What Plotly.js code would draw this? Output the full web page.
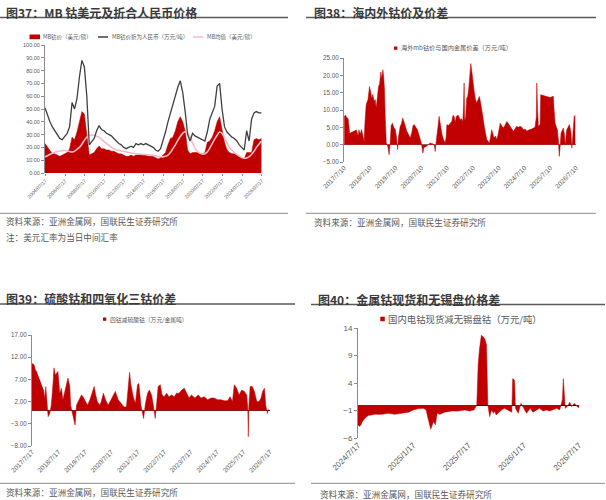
<!DOCTYPE html>
<html><head><meta charset="utf-8">
<script src="https://cdn.plot.ly/plotly-3.0.1.min.js"></script>
<style>html,body{margin:0;padding:0;background:#fff}#c{width:606px;height:500px}</style>
</head><body><div id="c"></div>
<script>
// ---------- Figure 37: quarterly from 2004 Q3 ----------
const p1Start = 2004.5, p1Step = 0.25;
const mbUsd = [23,20,17,15,15,14,13,14,15,16,19,28,26,32,40,48,46,30,14,15,16,19,21,19,19,18,18,17,17,16,15,15,14,13,13,14,13,14,14,14,14,14,13,13,13,12,11,12,14,16,22,27,28,33,40,44,40,33,18,15,16,16,16,15,15,16,24,25,28,33,40,44,33,24,18,16,15,15,14,13,12,11,16,16,16,26,27,26,27];
const mbRmb = [51,45,40,36,33,30,27,26,29,31,36,55,50,58,75,88,83,60,22,25,27,33,37,34,33,31,30,29,27,25,23,22,20,19,20,21,20,23,22,23,22,23,22,21,20,18,17,19,25,32,40,47,55,60,67,72,63,48,30,25,31,29,28,27,26,25,32,42,47,52,68,70,50,36,32,30,28,27,25,22,20,18,33,25,42,47,48,47,47];
const mbAvg = [12.5,13.5,14.5,15.5,16.3,16.8,17.2,17.5,17.6,17.3,16.8,16.5,17,18.5,20,22.5,25.5,28,29.3,29.7,29.5,28.8,28,26.5,24.5,23,21.5,20,19,18.3,17.7,17.2,16.8,16.5,16,15.6,15.3,15,14.8,14.6,14.5,14.3,14.2,14,13.8,13.4,13,12.7,12.6,13,14,16,19,22,25.5,28.5,31,32.3,31.5,28,23.5,19.5,16.8,15.5,14.8,15,16.5,19.5,23,26.5,29.5,32,31,27.5,23.5,20,18,16,14.5,13.3,12.2,11.5,11.8,12.8,14.5,17,20,22.5,25];
const p1Ticks = [2004,2006,2008,2010,2012,2014,2016,2018,2020,2022,2024,2026];
const p1Labels = p1Ticks.map(y => y + '/07/17');

// ---------- Figure 38 ----------
const t2 = [2017.53,2017.58,2017.63,2017.68,2017.74,2017.75,2018.0,2018.07,2018.1,2018.15,2018.2,2018.25,2018.3,2018.33,2018.38,2018.45,2018.51,2018.56,2018.6,2018.64,2018.69,2018.73,2018.77,2018.82,2018.86,2018.9,2018.95,2018.98,2019.03,2019.06,2019.09,2019.12,2019.16,2019.22,2019.27,2019.31,2019.35,2019.4,2019.45,2019.51,2019.55,2019.6,2019.63,2019.7,2019.75,2019.8,2019.85,2019.9,2019.95,2020.02,2020.09,2020.15,2020.2,2020.24,2020.3,2020.37,2020.42,2020.47,2020.52,2020.58,2020.62,2020.71,2020.8,2020.86,2020.93,2020.99,2021.03,2021.06,2021.09,2021.12,2021.17,2021.21,2021.26,2021.32,2021.38,2021.44,2021.48,2021.51,2021.57,2021.63,2021.7,2021.75,2021.8,2021.83,2021.88,2021.95,2022.03,2022.08,2022.13,2022.16,2022.18,2022.2,2022.24,2022.28,2022.32,2022.36,2022.39,2022.41,2022.44,2022.48,2022.52,2022.57,2022.62,2022.67,2022.72,2022.77,2022.81,2022.86,2022.91,2022.96,2023.01,2023.06,2023.11,2023.16,2023.2,2023.25,2023.3,2023.34,2023.4,2023.45,2023.5,2023.54,2023.58,2023.63,2023.7,2023.76,2023.84,2023.9,2023.96,2024.02,2024.09,2024.15,2024.22,2024.28,2024.35,2024.42,2024.48,2024.55,2024.61,2024.68,2024.74,2024.8,2024.87,2024.93,2024.98,2025.0,2025.03,2025.06,2025.1,2025.13,2025.15,2025.2,2025.26,2025.32,2025.38,2025.45,2025.52,2025.58,2025.64,2025.67,2025.71,2025.76,2025.8,2025.84,2025.87,2025.9,2025.94,2025.98,2026.03,2026.07,2026.1,2026.13,2026.16,2026.21,2026.26,2026.3,2026.33,2026.36,2026.4,2026.45,2026.49];
const v2 = [8.2,8.5,7.8,7.5,3.4,null,4.3,2.5,4.3,3,4.4,2,1.0,6,11.5,13,16.8,15,13.4,14.5,12.5,13,10.6,14,16.8,17.5,21,19,21.6,19.5,16,8,0.5,-0.5,-2.9,0.5,5.5,6.2,5,4.3,2.5,-1.4,2,5.3,6,7.7,6,5.3,4,3,1.9,3.5,5.5,5.8,5.2,4.3,3,2,0.5,-2.4,-0.8,-0.5,0.3,0.5,0.3,0.2,-0.5,-2,0.5,3.4,5.5,8.2,5,3,1.5,0.5,2,5.8,5.5,6,6.7,8.5,8,6.5,8.2,8.5,7.2,7.5,6.7,12,17.8,7,8,13.4,14,16.3,19,23,23.4,21,18,15.4,13,12,13,13.9,12.5,10.6,8,5.3,3,1.4,1,0.5,2,4.3,3,1.9,2.5,1.4,3,5,6.2,5.5,4.8,5.5,6.7,6,5.3,4.5,3.9,4.5,5.3,5,5.3,5,4.3,4.5,3.9,4.2,4.3,4.5,4.8,5,8,17.8,10,5.3,5.5,6,14.4,14.3,14,14,13.8,13.7,13.6,13.8,14,10,6.2,5,4.3,1,-3.4,-1,3.4,4,4.8,3,0,2,4.3,5,5.8,4.5,3,-1,3,8.2,8.5];
const p2Ticks = [2017,2018,2019,2020,2021,2022,2023,2024,2025,2026];
const p2Labels = p2Ticks.map(y => y + '/7/10');

// ---------- Figure 39 ----------
const t3 = [2017.54,2017.62,2017.67,2017.73,2017.74,2017.98,2018.02,2018.06,2018.1,2018.15,2018.21,2018.27,2018.34,2018.37,2018.42,2018.48,2018.52,2018.59,2018.65,2018.71,2018.78,2018.84,2018.9,2018.97,2019.0,2019.07,2019.13,2019.17,2019.22,2019.28,2019.35,2019.41,2019.47,2019.54,2019.64,2019.73,2019.81,2019.89,2019.95,2020.01,2020.1,2020.16,2020.24,2020.32,2020.42,2020.52,2020.61,2020.69,2020.8,2020.9,2021.02,2021.11,2021.18,2021.23,2021.28,2021.37,2021.45,2021.53,2021.58,2021.66,2021.72,2021.76,2021.83,2021.91,2021.98,2022.06,2022.13,2022.2,2022.26,2022.31,2022.39,2022.46,2022.54,2022.63,2022.72,2022.82,2022.92,2023.0,2023.1,2023.2,2023.3,2023.38,2023.48,2023.57,2023.64,2023.7,2023.83,2023.93,2024.05,2024.18,2024.31,2024.43,2024.56,2024.69,2024.81,2024.94,2025.03,2025.12,2025.19,2025.28,2025.37,2025.47,2025.57,2025.66,2025.7,2025.72,2025.74,2025.79,2025.87,2025.95,2026.04,2026.13,2026.2,2026.26,2026.33,2026.38,2026.44,2026.48];
const v3 = [10.6,10.3,9.1,8.6,null,4.6,2.6,5.4,1,-1.4,-0.7,1.2,6.5,9.6,8,8.7,8.8,3.9,5,2.4,4.3,6.1,7.3,5.4,1.2,-0.7,-2.1,-3.3,1.2,2,2.8,3.5,3.1,2.4,1.2,2.4,3.9,5.4,3.5,2,1.2,2,3.9,2.4,1.2,2.4,3.5,4.3,2.4,1.6,0.8,0.8,5,8.6,5.8,3.1,1.6,5.8,6.1,1.2,-0.7,-1.8,1.6,3.9,4.6,3.5,1.2,-1.8,2,5.4,5.8,3.5,3.1,3.9,3.1,3.5,3.1,3.9,3.9,4.6,5,3.9,2.8,3.5,3.1,2.8,3.5,2.8,3.1,2.4,2.8,2.8,2.4,2.4,2.2,2.2,3.1,2,5.8,5,3.5,4.6,4.3,3.5,0.5,-5.9,1,5.4,5.4,4.3,2,2,2.8,4.3,5,1.2,-0.7,0.4];
const p3Ticks = [2017,2018,2019,2020,2021,2022,2023,2024,2025,2026];
const p3Labels = p3Ticks.map(y => y + '/7/17');

// ---------- Figure 40: months after 2024/7/17 ----------
const m4 = [0,0.15,0.33,0.47,0.76,1.1,1.5,1.8,2.6,3.3,4,4.7,5.5,6,6.5,7.1,7.4,7.6,7.9,8.2,8.4,8.6,8.9,9.4,10.2,10.9,11.6,12.1,12.6,12.9,13.05,13.2,13.4,13.6,13.8,13.95,14.1,14.3,14.5,14.7,14.85,15.0,15.3,15.6,15.9,16.3,16.7,16.8,17,17.1,17.4,17.7,17.9,18.3,18.7,19.0,19.4,19.7,20.1,20.5,20.8,21.2,21.6,21.9,22.2,22.3,22.5,22.7,23,23.2,23.5,23.8,24];
const v4 = [-3.6,-3.9,-3.6,-3,-2.4,-1.9,-1.8,-1.7,-1.7,-1.5,-1.7,-1.5,-1.3,-0.9,-0.7,-0.6,-0.9,-2.4,-4.4,-3,-3.6,-1.5,-1.7,-1.3,-1.1,-1.1,-0.9,-1.1,-0.9,0,7.3,10.3,12.7,12.4,11.9,10.9,0,-2.1,-0.9,-1.5,-1.1,-1.8,-1.3,-0.9,-0.6,-0.9,-1.3,4.8,4.5,-0.6,-1.5,0.3,-0.3,-1.5,-0.6,-1.3,-0.9,-0.6,-1.1,-0.9,-1.1,-0.9,-0.6,-0.9,1.0,4.8,-0.6,-0.3,0.5,-0.3,0.3,-0.3,-0.5];
const p4Ticks = [0,6,12,18,24];
const p4Labels = ['2024/7/17','2025/1/17','2025/7/17','2026/1/17','2026/7/17'];

// ---------- build ----------
const W=606,H=500;
const px=x=>x/W, py=y=>1-y/H;
const RED='#C00000';
const FONT='"Liberation Sans", "Noto Sans CJK SC", sans-serif';
const CJK='"Noto Sans CJK SC", sans-serif';
const TICKC='#595959';

const t1 = mbUsd.map((_,i)=>p1Start + p1Step*i);

const traces = [
  {x:t1,y:mbUsd,type:'scatter',mode:'lines',fill:'tozeroy',fillcolor:RED,line:{color:RED,width:0.5},xaxis:'x',yaxis:'y'},
  {x:t1,y:mbAvg,type:'scatter',mode:'lines',line:{color:'#F6BCC6',width:1.6,shape:'spline'},xaxis:'x',yaxis:'y'},
  {x:t1,y:mbRmb,type:'scatter',mode:'lines',line:{color:'#404040',width:1.3},xaxis:'x',yaxis:'y'},
  {x:t2,y:v2,type:'scatter',mode:'lines',fill:'tozeroy',fillcolor:RED,line:{color:RED,width:0.5},xaxis:'x2',yaxis:'y2'},
  {x:t3,y:v3,type:'scatter',mode:'lines',fill:'tozeroy',fillcolor:RED,line:{color:RED,width:0.5},xaxis:'x3',yaxis:'y3'},
  {x:m4,y:v4,type:'scatter',mode:'lines',fill:'tozeroy',fillcolor:RED,line:{color:RED,width:0.5},xaxis:'x4',yaxis:'y4'}
];

function xa(dom, range, tv, tt, fs, anchor, tk){
  return {domain:dom, range:range, tickvals:tv, ticktext:tt, tickangle:-45, tickfont:{size:fs,color:TICKC,family:FONT},
    showgrid:false, zeroline:false, showline:false, ticks:tk?'outside':'', ticklen:2, tickcolor:'#8c8c8c', anchor:anchor, fixedrange:true};
}
function ya(dom, range, tick0, dtick, fmt, fs, anchor, zl, zlc){
  return {domain:dom, range:range, tick0:tick0, dtick:dtick, tickmode:'linear', tickformat:fmt, tickfont:{size:fs,color:TICKC,family:FONT},
    showgrid:false, zeroline:zl, zerolinecolor:zlc, zerolinewidth:1, showline:true, linecolor:'#8c8c8c', linewidth:1,
    ticks:'outside', ticklen:3, tickcolor:'#8c8c8c', anchor:anchor, fixedrange:true};
}

const layout = {
  width:W, height:H, margin:{l:0,r:0,t:0,b:0}, paper_bgcolor:'#fff', plot_bgcolor:'#fff', showlegend:false,
  font:{family:FONT},
  xaxis: xa([px(45),px(262)],[2004.5,2026.56],p1Ticks.map(y=>y+0.54),p1Labels,5,'y',true),
  yaxis: ya([py(173),py(45)],[0,100],0,10,'.2f',5.5,'x',false,'#000'),
  xaxis2: xa([px(344),px(576)],[2017.52,2026.52],p2Ticks.map(y=>y+0.52),p2Labels,6.5,'y2',false),
  yaxis2: ya([py(162),py(58)],[-5,25],-5,5,'.2f',6.3,'x2',true,'#7f7f7f'),
  xaxis3: xa([px(32),px(270)],[2017.54,2026.54],p3Ticks.map(y=>y+0.54),p3Labels,6.5,'y3',false),
  yaxis3: ya([py(446),py(335)],[-8,17],-8,5,'.2f',6.3,'x3',true,'#404040'),
  xaxis4: xa([px(358),px(579)],[0,24],p4Ticks,p4Labels,8,'y4',false),
  yaxis4: ya([py(438),py(328)],[-6,14],-6,5,'d',8,'x4',true,'#000'),
  shapes: [], annotations: []
};

function line(x0,y0,x1,y1,c,w){layout.shapes.push({type:'line',xref:'paper',yref:'paper',x0:px(x0),x1:px(x1),y0:py(y0),y1:py(y1),line:{color:c,width:w}});}
function rect(x0,y0,x1,y1,c){layout.shapes.push({type:'rect',xref:'paper',yref:'paper',x0:px(x0),x1:px(x1),y0:py(y0),y1:py(y1),fillcolor:c,line:{width:0}});}
function text(x,y,s,size,opts){layout.annotations.push(Object.assign({xref:'paper',yref:'paper',x:px(x),y:py(y),text:s,showarrow:false,xanchor:'left',yanchor:'middle',font:{size:size,color:'#404040',family:CJK}},opts||{}));}

// titles
const TFont = {family:CJK,size:12,color:'#3a3a3a',weight:700};
text(4,12.5,'<b>图37：MB 钴美元及折合人民币价格</b>',12,{font:TFont});
text(312,12.5,'<b>图38：海内外钴价及价差</b>',12,{font:TFont});
text(4,298.3,'<b>图39：硫酸钴和四氧化三钴价差</b>',12,{font:TFont});
text(316,299.3,'<b>图40：金属钴现货和无锡盘价格差</b>',12,{font:TFont});
line(0,17.5,288,17.5,'#595959',1.5);
line(306,17.5,596,17.5,'#595959',1.5);
line(0,304,295,304,'#595959',1.5);
line(311,304.5,605,304.5,'#595959',1.5);
// bottom separators
line(0,213.3,288,213.3,'#8c8c8c',1);
line(306,213.3,596,213.3,'#8c8c8c',1);
line(0,483.3,295,483.3,'#8c8c8c',1);
line(311,483.3,605,483.3,'#8c8c8c',1);
// sources
const SF={family:CJK,size:8.6,color:'#595959'};
text(4,221,'资料来源：亚洲金属网，国联民生证券研究所',8.6,{font:SF});
text(4,237.3,'注：美元汇率为当日中间汇率',8.6,{font:SF});
text(312,221.7,'资料来源：亚洲金属网，国联民生证券研究所',8.6,{font:SF});
text(4,492.3,'资料来源：亚洲金属网，国联民生证券研究所',8.6,{font:SF});
text(318,493.5,'资料来源：亚洲金属网，国联民生证券研究所',8.6,{font:SF});
// legends
const LF=s=>({family:CJK,size:s,color:'#595959'});
rect(29.5,34.5,40,39.2,RED);
text(41,37,'MB钴价（美元/磅）',5.5,{font:LF(5.5)});
line(98,37,108,37,'#404040',1.5);
text(109.5,37,'MB钴价折为人民币（万元/吨）',5.5,{font:LF(5.5)});
line(193,37,203,37,'#F6BCC6',1.5);
text(204.5,37,'MB均值（美元/磅）',5.5,{font:LF(5.5)});
rect(394,46.5,397.3,49.8,RED);
text(398.5,48,'海外mb钴价与国内金属价差（万元/吨）',6.2,{font:LF(6.2)});
rect(103,317.5,106.3,320.8,RED);
text(107.5,319,'四钴减硫酸钴（万元/金属吨）',5.8,{font:LF(5.8)});
rect(380.3,316.7,384.8,321.2,RED);
text(385.8,319,'国内电钴现货减无锡盘钴（万元/吨）',9.4,{font:LF(9.4)});

Plotly.newPlot('c',traces,layout,{staticPlot:true,displayModeBar:false});
</script></body></html>
